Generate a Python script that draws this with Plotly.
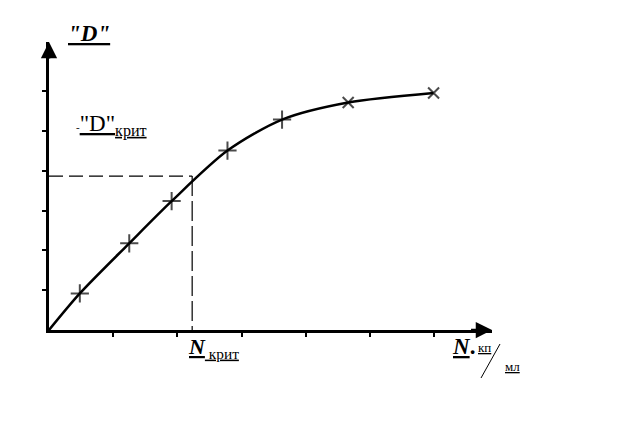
import plotly.graph_objects as go

# ---- data (axis units: x = N, y = "D") ----
n_vals = [0.0, 0.48, 1.25, 1.91, 2.78, 3.63, 4.66, 5.99]
d_vals = [0.0, 0.92, 2.18, 3.24, 4.51, 5.29, 5.72, 5.96]
marker_symbols = ["circle", "cross-thin", "cross-thin", "cross-thin", "cross-thin",
                  "cross-thin", "x-thin", "x-thin"]
marker_sizes = [0, 13, 13, 13, 13, 13, 11, 11]
x_ticks = [1, 2, 3, 4, 5, 6]
y_ticks = [1, 2, 3, 4, 5, 6]
n_crit = 2.23
d_crit = 3.87
x_max = 6.90
y_max = 7.24

# ---- layout geometry (pixels) ----
W, H = 640, 441
L, T, R, B = 49, 42, 148, 111
PW, PH = W - L - R, H - T - B

def px(x):
    return (x - L) / PW

def py(y):
    return (H - B - y) / PH

FONT = "Liberation Serif"

fig = go.Figure()

# dashed critical lines
fig.add_trace(go.Scatter(x=[0, n_crit], y=[d_crit, d_crit], mode="lines",
                         line=dict(color="black", width=1.2, dash="14px,6px"),
                         hoverinfo="skip", showlegend=False, cliponaxis=False))
fig.add_trace(go.Scatter(x=[n_crit, n_crit], y=[d_crit, 0], mode="lines",
                         line=dict(color="black", width=1.2, dash="20px,5px"),
                         hoverinfo="skip", showlegend=False, cliponaxis=False))

# curve
fig.add_trace(go.Scatter(x=n_vals, y=d_vals, mode="lines",
                         line=dict(color="black", width=2.5, shape="spline", smoothing=0.8),
                         hoverinfo="skip", showlegend=False, cliponaxis=False))
# markers
fig.add_trace(go.Scatter(x=n_vals[1:], y=d_vals[1:], mode="markers",
                         marker=dict(symbol=marker_symbols[1:], size=marker_sizes[1:],
                                     color="black", line=dict(color="black", width=2)),
                         hoverinfo="skip", showlegend=False, cliponaxis=False))

ax_common = dict(showgrid=False, zeroline=False, showline=True, linecolor="black",
                 linewidth=2.5, ticks="outside", ticklen=4, tickwidth=2,
                 tickcolor="black", showticklabels=False, fixedrange=True)

fig.update_layout(
    width=W, height=H,
    margin=dict(l=L, r=R, t=T, b=B, pad=0),
    paper_bgcolor="white", plot_bgcolor="white",
    xaxis=dict(range=[0, x_max], tickvals=x_ticks, **ax_common),
    yaxis=dict(range=[0, y_max], tickvals=y_ticks, **ax_common),
    showlegend=False,
    font=dict(family=FONT, color="black"),
)

annotations = [
    # axis arrows
    dict(x=x_max, y=0, ax=x_max - 0.35, ay=0, xref="x", yref="y", axref="x", ayref="y",
         showarrow=True, arrowhead=2, arrowsize=1.3, arrowwidth=2.5, arrowcolor="black",
         text="", standoff=0, startstandoff=0),
    dict(x=0, y=y_max, ax=0, ay=y_max - 0.45, xref="x", yref="y", axref="x", ayref="y",
         showarrow=True, arrowhead=2, arrowsize=1.3, arrowwidth=2.5, arrowcolor="black",
         text="", standoff=0, startstandoff=0),
    # y title
    dict(x=px(66), y=py(33), xref="paper", yref="paper", xanchor="left", yanchor="middle",
         showarrow=False, text='<u><b><i>"D"</i></b></u>',
         font=dict(family=FONT, size=23, color="black")),
    # D crit label
    dict(x=px(74), y=py(126), xref="paper", yref="paper", xanchor="left", yanchor="middle",
         showarrow=False,
         text='<span style="font-size:11px">-</span><u>"D"<sub>крит</sub></u>',
         font=dict(family=FONT, size=23, color="black")),
    # N crit label
    dict(x=px(186), y=py(348), xref="paper", yref="paper", xanchor="left", yanchor="middle",
         showarrow=False,
         text='<u><b><i>N</i></b><sub> крит</sub></u>',
         font=dict(family=FONT, size=22, color="black")),
    # x axis label
    dict(x=px(450), y=py(346), xref="paper", yref="paper", xanchor="left", yanchor="middle",
         showarrow=False, text='<u><b><i>N</i></b></u><b>.</b>',
         font=dict(family=FONT, size=23, color="black")),
    dict(x=px(476), y=py(347), xref="paper", yref="paper", xanchor="left", yanchor="middle",
         showarrow=False, text='<u>кп</u>',
         font=dict(family=FONT, size=13, color="black")),
    dict(x=px(503), y=py(366), xref="paper", yref="paper", xanchor="left", yanchor="middle",
         showarrow=False, text='<u>мл</u>',
         font=dict(family=FONT, size=13, color="black")),
]
fig.update_layout(annotations=annotations)

fig.add_shape(type="line", xref="paper", yref="paper",
              x0=px(500), y0=py(344), x1=px(481), y1=py(378),
              line=dict(color="black", width=1))

fig.write_html("out.html",
               config={"displayModeBar": False},
               post_script="document.body.style.margin='0';document.body.style.padding='0';")
